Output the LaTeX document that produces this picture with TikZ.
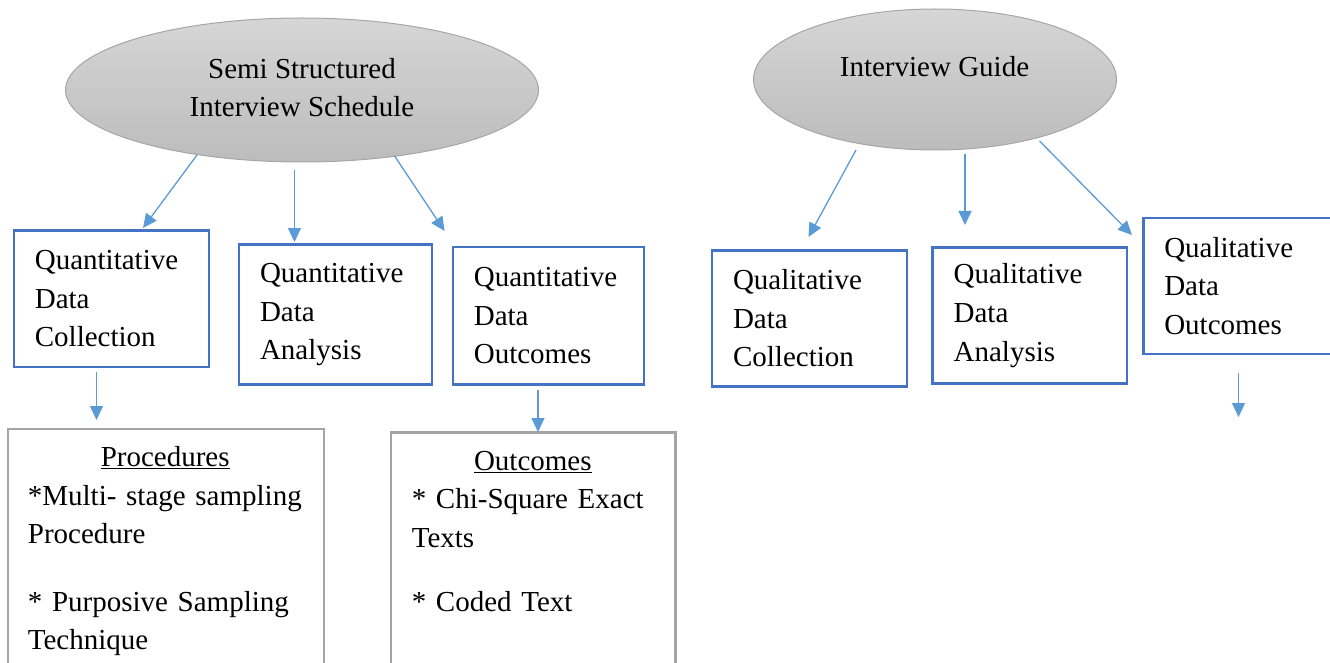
\documentclass[tikz,border=0pt]{standalone}
\usepackage{fontspec}
\setmainfont{Liberation Serif}
\usetikzlibrary{arrows.meta,shapes.geometric}
\definecolor{boxblue}{HTML}{4472C4}
\definecolor{arrblue}{HTML}{5B9BD5}
\definecolor{boxgray}{HTML}{A5A5A5}
\definecolor{elltop}{HTML}{D6D6D6}
\definecolor{ellbot}{HTML}{BCBCBC}
\definecolor{ellline}{HTML}{A6A6A6}
\begin{document}
\begin{tikzpicture}[x=1pt,y=-1pt,
  every node/.style={font=\fontsize{29}{38.7}\selectfont},
  ell/.style={ellipse, draw=ellline, line width=1pt, top color=elltop, bottom color=ellbot, inner sep=0pt},
  qbox/.style={rectangle, draw=boxblue, line width=2.5pt, anchor=north west, inner xsep=21pt, inner ysep=0pt, align=left},
  gbox/.style={rectangle, draw=boxgray, line width=2.5pt, anchor=north west, inner sep=0pt},
  btext/.style={anchor=base west, inner sep=0pt, align=left, text width=300pt},
  arr/.style={draw=arrblue, line width=1.3pt, -{Triangle[length=14pt,width=13pt]}}
]
\useasboundingbox (0,0) rectangle (1330,663);
\clip (0,0) rectangle (1330,663);

% ellipses
\node[ell, minimum width=473pt, minimum height=144pt] (e1) at (302,90) {};
\node[align=center, inner sep=0pt] (e1t) at (302,87.5) {Semi Structured\\Interview Schedule};
\node[ell, minimum width=363pt, minimum height=141pt] (e2) at (935,79.5) {};
\node[inner sep=0pt] (e2t) at (934.5,67) {Interview Guide};

% quantitative boxes
\node[qbox, text width=153pt, minimum height=136.4pt] (qdc) at (12.6,229.3) {Quantitative\\Data\\Collection};
\node[qbox, text width=150.8pt, minimum height=140pt] (qda) at (237.8,243.3) {Quantitative\\Data\\Analysis};
\node[qbox, text width=149.1pt, minimum height=137.6pt] (qdo) at (451.6,245.7) {Quantitative\\Data\\Outcomes};

% qualitative boxes
\node[qbox, text width=152.9pt, minimum height=136pt] (ldc) at (710.8,249) {Qualitative\\Data\\Collection};
\node[qbox, text width=152.5pt, minimum height=136.3pt] (lda) at (931.4,246) {Qualitative\\Data\\Analysis};
\node[qbox, text width=153pt, minimum height=136pt] (ldo) at (1142,216.7) {Qualitative\\Data\\Outcomes};

% gray boxes
\node[gbox, minimum width=316pt, minimum height=300pt] (proc) at (6.7,427.7) {};
\node[btext] (proct) at (27.7,466.5) {\makebox[274.6pt][c]{\underline{Procedures}}\\
{*}Multi- stage sampling\\
Procedure};
\node[btext] (proct2) at (27.7,611) {{*} Purposive Sampling\\
Technique};
\node[gbox, minimum width=284.4pt, minimum height=300pt] (outc) at (389.7,431) {};
\node[btext] (outct) at (411.6,470.2) {\makebox[242pt][c]{\underline{Outcomes}}\\
{*} Chi-Square Exact\\
Texts};
\node[btext] (outct2) at (411.6,611) {{*} Coded Text};

% arrow end points
\coordinate (a1s) at (197,155);   \coordinate (a1e) at (143,228);
\coordinate (a2s) at (294.5,170); \coordinate (a2e) at (294.5,242);
\coordinate (a3s) at (394.6,156); \coordinate (a3e) at (444.6,231);
\coordinate (a4s) at (96.5,372);  \coordinate (a4e) at (96.5,420);
\coordinate (a5s) at (538,390);   \coordinate (a5e) at (538,432);
\coordinate (b1s) at (856,150);   \coordinate (b1e) at (808.5,237);
\coordinate (b2s) at (965,154);   \coordinate (b2e) at (965,225);
\coordinate (b3s) at (1039.5,141); \coordinate (b3e) at (1132,235);
\coordinate (b4s) at (1238.5,373); \coordinate (b4e) at (1238.5,417);

\draw[arr] (a1s) -- (a1e);
\draw[arr] (a2s) -- (a2e);
\draw[arr] (a3s) -- (a3e);
\draw[arr] (a4s) -- (a4e);
\draw[arr] (a5s) -- (a5e);
\draw[arr] (b1s) -- (b1e);
\draw[arr] (b2s) -- (b2e);
\draw[arr] (b3s) -- (b3e);
\draw[arr] (b4s) -- (b4e);
\end{tikzpicture}
\end{document}
